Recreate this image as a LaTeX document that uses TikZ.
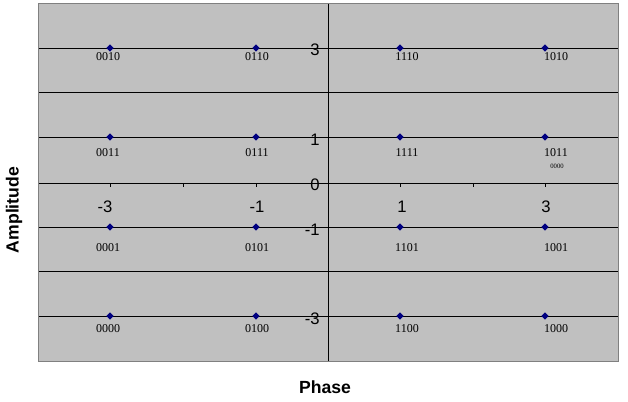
\documentclass[tikz,border=0pt]{standalone}
\usepackage{fontspec}
\setmainfont{Liberation Serif}
\setsansfont{Liberation Sans}
\usepackage{tikz}
\usetikzlibrary{shapes.geometric}
\definecolor{plotgray}{HTML}{C0C0C0}
\definecolor{framegray}{HTML}{808080}
\definecolor{dotnavy}{HTML}{000080}

\begin{document}
\begin{tikzpicture}[x=0.75pt, y=-0.75pt,
    qam/.style={diamond, fill=dotnavy, inner sep=0pt, minimum size=5.6pt},
    bits/.style={font=\fontsize{9}{10}\selectfont, inner sep=0pt},
    ticklabel/.style={font=\sffamily\fontsize{12.5}{14}\selectfont, inner sep=0pt},
    axistitle/.style={font=\sffamily\bfseries\fontsize{13.2}{15}\selectfont, inner sep=0pt},
    gridline/.style={line width=0.75pt}
]
\useasboundingbox (0,0) rectangle (628,401);
\fill[plotgray] (38,3) rectangle (618,361);
% gridlines
\foreach \y in {48,92,137,227,271,316}
  \draw[gridline] (38,\y) -- (618,\y);
% axes and ticks
\draw[gridline] (38,183) -- (618,183);
\draw[gridline] (328,3) -- (328,361);
\foreach \x in {110,183,256,400,473,545,618}
  \draw[gridline] (\x,183) -- (\x,187);
\draw[framegray, line width=0.75pt] (38,3) rectangle (618,361);

% constellation points
\foreach \px/\py/\lx/\ly/\code in {
    110/48/108/57/0010, 256/48/257/57/0110, 400/48/407/57/1110, 545/48/556/57/1010,
    110/137/108/152.5/0011, 256/137/257/152.5/0111, 400/137/407/152.5/1111, 545/137/556/152.5/1011,
    110/227/108/248/0001, 256/227/257/248/0101, 400/227/407/248/1101, 545/227/556/248/1001,
    110/316/108/329/0000, 256/316/257/329/0100, 400/316/407/329/1100, 545/316/556/329/1000}{
  \node[qam] (p\code) at (\px,\py) {};
  \node[bits] (l\code) at (\lx,\ly) {\code};
}
\node[bits, font=\fontsize{5}{6}\selectfont] (stray) at (557,166) {0000};

% axis values
\node[ticklabel, anchor=east] (y3) at (320,50) {3};
\node[ticklabel, anchor=east] (y1) at (320,140) {1};
\node[ticklabel, anchor=east] (y0) at (320,185) {0};
\node[ticklabel, anchor=east] (ym1) at (320,230) {-1};
\node[ticklabel, anchor=east] (ym3) at (320,319) {-3};
\node[ticklabel] (xm3) at (105,207) {-3};
\node[ticklabel] (xm1) at (257,207) {-1};
\node[ticklabel] (x1) at (402,207) {1};
\node[ticklabel] (x3) at (546,207) {3};

% titles
\node[axistitle, rotate=90] (amp) at (14,210) {Amplitude};
\node[axistitle] (phase) at (325,387) {Phase};
\end{tikzpicture}
\end{document}
